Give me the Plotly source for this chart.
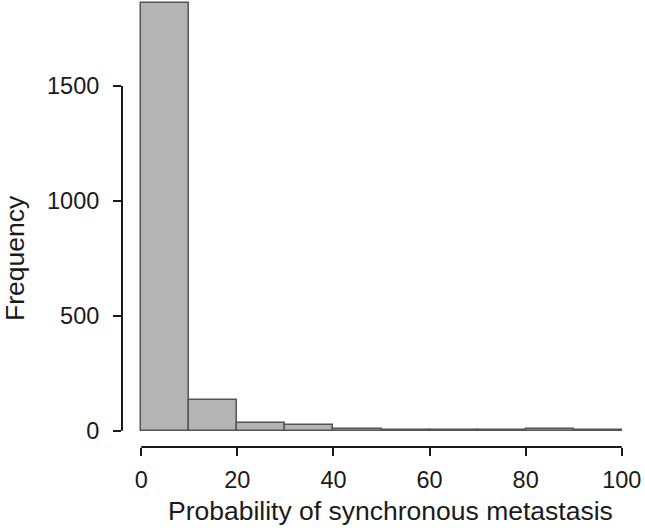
import plotly.graph_objects as go

# histogram bins (probability, %) and counts
bin_left = [0, 10, 20, 30, 40, 50, 60, 70, 80, 90]
bin_width = 10
counts = [1862, 134, 32, 25, 6, 5, 5, 1, 6, 2]

x_ticks = [0, 20, 40, 60, 80, 100]
y_ticks = [0, 500, 1000, 1500]

font = "Liberation Sans, Arial, Helvetica, sans-serif"
ink = "#1a1a1a"

fig = go.Figure()
fig.add_trace(go.Bar(
    x=[b + bin_width / 2 for b in bin_left],
    y=counts,
    width=bin_width,
    marker=dict(color="#b4b4b4", line=dict(color="#555555", width=1.5)),
    hoverinfo="x+y",
))

# R style axes: lines only span the first to last tick
fig.add_shape(type="line", xref="paper", yref="y", x0=0, x1=0,
              y0=y_ticks[0], y1=y_ticks[-1], line=dict(color=ink, width=2))
fig.add_shape(type="line", xref="x", yref="paper", x0=x_ticks[0], x1=x_ticks[-1],
              y0=0, y1=0, line=dict(color=ink, width=2))

fig.update_xaxes(range=[-4, 104], tickvals=x_ticks, ticks="outside", ticklen=8,
                 tickwidth=2, tickcolor=ink, showline=False, showgrid=False,
                 zeroline=False, automargin=False, ticklabelstandoff=4,
                 tickfont=dict(size=23.5, color=ink, family=font))
fig.update_yaxes(range=[-71, 1874], tickvals=y_ticks, ticks="outside", ticklen=8,
                 tickwidth=2, tickcolor=ink, showline=False, showgrid=False,
                 zeroline=False, automargin=False, ticklabelstandoff=9,
                 tickfont=dict(size=23.5, color=ink, family=font))

fig.add_annotation(text="Probability of synchronous metastasis", xref="paper", yref="paper",
                   x=0.518, y=-0.143, xanchor="center", yanchor="middle", showarrow=False,
                   font=dict(size=26.5, color=ink, family=font))
fig.add_annotation(text="Frequency", xref="paper", yref="paper", textangle=-90,
                   x=-0.206, y=0.423, xanchor="center", yanchor="middle", showarrow=False,
                   font=dict(size=26.5, color=ink, family=font))

fig.update_layout(width=645, height=530, margin=dict(l=122, r=4, t=0, b=83),
                  plot_bgcolor="white", paper_bgcolor="white", showlegend=False,
                  bargap=0)
# page body has a default 8px margin; drop it so the figure sits at the corner
fig.write_html("out.html", config={"displayModeBar": False},
               post_script="document.body.style.margin='0';")
